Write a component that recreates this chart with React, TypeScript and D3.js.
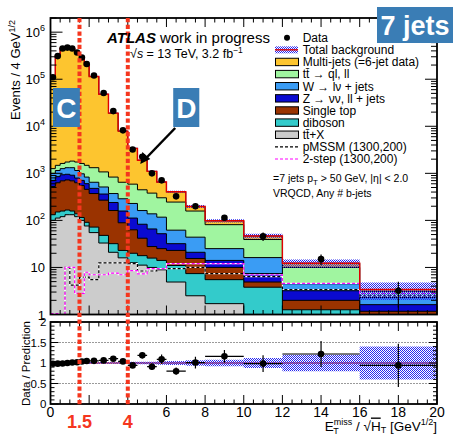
import React from "react";
import * as d3 from "d3";

// bin edges in ETmiss/sqrt(HT) [GeV^1/2]
const binEdges = [0, 0.25, 0.5, 0.75, 1, 1.25, 1.5, 1.75, 2, 2.5, 3, 3.5, 4, 4.5, 5, 5.5, 6, 7, 8, 10, 12, 16, 20];

// events / 4 GeV^1/2
const dataEvents = [110000, 310000, 450000, 470000, 450000, 370000, 290000, 210000, 120000, 51000, 21000, 8200, 3200, 2250, 1000, 710, 324, 200, 114, 46, 15, 3.2];

// backgrounds, stacked bottom -> top
const ttX = [100, 112, 120, 132, 132, 120, 100, 76, 55, 33, 21, 16, 12.6, 11.2, 10, 8.9, 4.9, 2.5, 1.7, 0.5, 0.3, 0.1];
const diboson = [32, 39, 38, 34, 26, 18, 15, 15, 17, 15, 11, 7, 7.4, 6.6, 5.8, 5.2, 6.1, 4.9, 3.8, 3.3, 0.96, 0.4];
const singleTop = [393, 480, 534, 558, 534, 493, 435, 366, 300, 221, 130, 66, 43, 24, 12, 11, 12, 8.1, 4.5, 1.1, 0.74, 0.67];
const zJets = [183, 220, 241, 231, 220, 163, 158, 146, 107, 94, 78, 69, 49, 41, 38, 27, 9, 5.5, 4.1, 2.5, 1.2, 0.45];
const wJets = [292, 297, 326, 363, 406, 354, 269, 229, 167, 150, 132, 130, 117, 79, 72, 65, 30, 23, 11, 8.8, 1.3, 0.68];
const ttbar = [259, 331, 363, 420, 502, 590, 645, 647, 672, 559, 460, 358, 360, 285, 242, 185, 183, 114, 56, 23, 5.5, 0.8];
const multijet = [110700, 313500, 453400, 468300, 443200, 361300, 278400, 198500, 112700, 46900, 18170, 7250, 2810, 1450, 720, 350, 160, 40, 17, 7.5, 2.3, 0.3];

// relative uncertainty on total background
const bkgUnc = [0.015, 0.015, 0.015, 0.015, 0.015, 0.015, 0.015, 0.015, 0.02, 0.02, 0.02, 0.02, 0.03, 0.03, 0.03, 0.04, 0.05, 0.07, 0.08, 0.12, 0.2, 0.4];

// signals
const pmssm = [0.5, 0.5, 0.5, 10, 4.2, 4.2, 6.2, 6.2, 5.5, 12.5, 12.5, 12.5, 12, 8.4, 8.4, 9.5, 9.4, 10, 7.4, 6.4, 3.4, 2.5];
const twoStep = [1.05, 1.05, 0.9, 10, 10, 2.8, 2.8, 7.9, 7, 7, 7.6, 7, 8.6, 7.3, 9.4, 9.4, 12, 12, 12, 7, 4.6, 2.8];

const xTickLabels = [0, 6, 8, 10, 12, 14, 16, 18, 20];
const regionCuts = [1.5, 4];
const regionLabels = ["1.5", "4"];
const yDecades = [0, 1, 2, 3, 4, 5, 6];
const ratioTicks = [0, 0.5, 1, 1.5, 2];
const ratioLabels = ["0", "0.5", "1", "1.5", "2"];

const legendLabels = [
  "Data",
  "Total background",
  "Multi-jets (=6-jet data)",
  "tt\u0304 \u2192 ql, ll",
  "W \u2192 l\u03bd + jets",
  "Z \u2192 \u03bd\u03bd, ll + jets",
  "Single top",
  "diboson",
  "tt\u0304+X",
  "pMSSM (1300,200)",
  "2-step (1300,200)",
];

const FONT = "'Liberation Sans', Arial, Helvetica, sans-serif";
const BOXBLUE = "#3a7db5";
const RED = "#f5361e";

const layers = [
  { key: "ttX", vals: ttX, color: "#cccccc" },
  { key: "diboson", vals: diboson, color: "#33cbcb" },
  { key: "singleTop", vals: singleTop, color: "#9a3300" },
  { key: "zJets", vals: zJets, color: "#0a0ad0" },
  { key: "wJets", vals: wJets, color: "#3a9cf4" },
  { key: "ttbar", vals: ttbar, color: "#a0f5a0" },
  { key: "multijet", vals: multijet, color: "#fdc52f" },
];

export default function App() {
  const L = 50.5, R = 437;
  const mTop = 18, mBot = 314.5;
  const rTop = 322, rBot = 404;

  const x = d3.scaleLinear().domain([0, 20]).range([L, R]);
  const y = d3.scaleLog().domain([1, 2e6]).range([mBot, mTop]).clamp(true);
  const yr = d3.scaleLinear().domain([0, 2]).range([rBot, rTop]);

  const rows = dataEvents.map((_, i) => {
    const o: Record<string, number> = {};
    layers.forEach((l) => (o[l.key] = l.vals[i]));
    return o;
  });
  const stacked = d3.stack<Record<string, number>>().keys(layers.map((l) => l.key))(rows);
  const total = rows.map((_, i) => stacked[stacked.length - 1][i][1]);

  const steps = (vals: number[]) => {
    const pts: [number, number][] = vals.map((v, i) => [binEdges[i], v]);
    pts.push([binEdges[binEdges.length - 1], vals[vals.length - 1]]);
    return pts;
  };
  const lineStep = d3
    .line<[number, number]>()
    .x((d) => x(d[0]))
    .y((d) => y(Math.max(d[1], 0.3)))
    .curve(d3.curveStepAfter);
  const areaStep = d3
    .area<[number, number]>()
    .x((d) => x(d[0]))
    .y0(mBot)
    .y1((d) => y(Math.max(d[1], 0.3)))
    .curve(d3.curveStepAfter);

  type B = [number, number, number];
  const bandPts = (lo: number[], hi: number[]) => {
    const pts: B[] = lo.map((v, i) => [binEdges[i], v, hi[i]]);
    pts.push([binEdges[binEdges.length - 1], lo[lo.length - 1], hi[hi.length - 1]]);
    return pts;
  };
  const bandMain = d3
    .area<B>()
    .x((d) => x(d[0]))
    .y0((d) => y(Math.max(d[1], 0.3)))
    .y1((d) => y(d[2]))
    .curve(d3.curveStepAfter);
  const bandRatio = d3
    .area<B>()
    .x((d) => x(d[0]))
    .y0((d) => yr(d[1]))
    .y1((d) => yr(d[2]))
    .curve(d3.curveStepAfter);

  const centers = dataEvents.map((_, i) => (binEdges[i] + binEdges[i + 1]) / 2);
  const widths = dataEvents.map((_, i) => binEdges[i + 1] - binEdges[i]);
  const errs = dataEvents.map((v, i) => (Math.sqrt((v * widths[i]) / 4) * 4) / widths[i]);
  const ratio = dataEvents.map((v, i) => v / total[i]);
  const ratioErr = errs.map((e, i) => e / total[i]);

  // ticks
  const xMajor = d3.range(0, 20.001, 2);
  const xMinor = d3.range(0, 20.001, 0.5).filter((v) => Math.abs(v % 2) > 1e-6);
  const yMinor: number[] = [];
  yDecades.forEach((d) => {
    for (let k = 2; k <= 9; k++) {
      const v = k * Math.pow(10, d);
      if (v <= 2e6) yMinor.push(v);
    }
  });
  const rMinor = d3.range(0, 2.001, 0.1).filter((v) => Math.abs((v * 2) % 1) > 1e-6 && Math.abs((v * 2) % 1) < 0.999);

  let tickPath = "";
  xMajor.forEach((v) => {
    const px = x(v);
    tickPath += `M${px},${mBot}V${mBot - 9}M${px},${mTop}V${mTop + 9}`;
    tickPath += `M${px},${rBot}V${rBot - 9}M${px},${rTop}V${rTop + 9}`;
  });
  xMinor.forEach((v) => {
    const px = x(v);
    tickPath += `M${px},${mBot}V${mBot - 4.5}M${px},${mTop}V${mTop + 4.5}`;
    tickPath += `M${px},${rBot}V${rBot - 4.5}M${px},${rTop}V${rTop + 4.5}`;
  });
  yDecades.forEach((d) => {
    const py = y(Math.pow(10, d));
    tickPath += `M${L},${py}H${L + 12}M${R},${py}H${R - 12}`;
  });
  yMinor.forEach((v) => {
    const py = y(v);
    tickPath += `M${L},${py}H${L + 6}M${R},${py}H${R - 6}`;
  });
  ratioTicks.forEach((v) => {
    const py = yr(v);
    tickPath += `M${L},${py}H${L + 8}M${R},${py}H${R - 8}`;
  });
  rMinor.forEach((v) => {
    const py = yr(v);
    tickPath += `M${L},${py}H${L + 4}M${R},${py}H${R - 4}`;
  });

  const rowY = (i: number) => 37.7 + i * 12.13;
  const legendColors = [null, null, "#fdc52f", "#a0f5a0", "#3a9cf4", "#0a0ad0", "#9a3300", "#33cbcb", "#cccccc"];

  const cBox = { x0: x(0.13), x1: x(1.52), y0: 88, y1: 127 };
  const dBox = { x0: x(6.35), x1: x(7.7), y0: 88, y1: 127 };

  return (
    <svg width={453} height={437} style={{ position: "absolute", left: 0, top: 0 }} fontFamily={FONT}>
      <defs>
        <pattern id="hatch" width="2" height="2" patternUnits="userSpaceOnUse">
          <rect x="0" y="0" width="1" height="1" fill="#2626f0" />
          <rect x="1" y="1" width="1" height="1" fill="#2626f0" />
        </pattern>
        <clipPath id="clipMain">
          <rect x={L} y={mTop} width={R - L} height={mBot - mTop} />
        </clipPath>
        <clipPath id="clipRatio">
          <rect x={L} y={rTop} width={R - L} height={rBot - rTop} />
        </clipPath>
      </defs>
      <rect width={453} height={437} fill="#fff" />

      {/* main panel */}
      <g clipPath="url(#clipMain)">
        {[...stacked].reverse().map((s, k) => {
          const layer = layers[layers.length - 1 - k];
          const vals = s.map((d) => d[1]);
          return (
            <g key={layer.key}>
              <path d={areaStep(steps(vals)) || ""} fill={layer.color} />
              <path d={lineStep(steps(vals)) || ""} fill="none" stroke="#000" strokeWidth={1} />
            </g>
          );
        })}
        {[
          { vals: pmssm, color: "#000" },
          { vals: twoStep, color: "#ff00ff" },
        ].map((s, k) => (
          <g key={k}>
            <path d={lineStep(steps(s.vals)) || ""} fill="none" stroke="#fff" strokeWidth={1.2} />
            <path d={lineStep(steps(s.vals)) || ""} fill="none" stroke={s.color} strokeWidth={1.2} strokeDasharray="3,2" />
          </g>
        ))}
        <path
          d={bandMain(bandPts(total.map((t, i) => t * (1 - bkgUnc[i])), total.map((t, i) => t * (1 + bkgUnc[i])))) || ""}
          fill="url(#hatch)"
        />
        <path d={lineStep(steps(total)) || ""} fill="none" stroke="#e00000" strokeWidth={1.4} />
        {dataEvents.map((v, i) => (
          <g key={i}>
            <line x1={x(centers[i])} x2={x(centers[i])} y1={y(v + errs[i])} y2={y(Math.max(v - errs[i], 0.5))} stroke="#000" strokeWidth={1.2} />
            <circle cx={x(centers[i])} cy={y(v)} r={3.3} fill="#000" />
          </g>
        ))}
      </g>

      {/* ratio panel */}
      <g clipPath="url(#clipRatio)">
        {[0.5, 1, 1.5].map((v) => (
          <line key={v} x1={L} x2={R} y1={yr(v)} y2={yr(v)} stroke="#000" strokeWidth={0.8} strokeDasharray="1,2" />
        ))}
        <line x1={L} x2={R} y1={yr(1)} y2={yr(1)} stroke="#e00000" strokeWidth={1} />
        <path d={bandRatio(bandPts(bkgUnc.map((u) => 1 - u), bkgUnc.map((u) => 1 + u))) || ""} fill="url(#hatch)" />
        {ratio.map((r, i) => (
          <g key={i}>
            <line x1={x(binEdges[i])} x2={x(binEdges[i + 1])} y1={yr(r)} y2={yr(r)} stroke="#000" strokeWidth={1.2} />
            <line x1={x(centers[i])} x2={x(centers[i])} y1={yr(r + ratioErr[i])} y2={yr(r - ratioErr[i])} stroke="#000" strokeWidth={1.2} />
            <circle cx={x(centers[i])} cy={yr(r)} r={3.3} fill="#000" />
          </g>
        ))}
      </g>

      {/* frames and ticks */}
      <rect x={L} y={mTop} width={R - L} height={mBot - mTop} fill="none" stroke="#000" strokeWidth={1.8} />
      <rect x={L} y={rTop} width={R - L} height={rBot - rTop} fill="none" stroke="#000" strokeWidth={1.8} />
      <path d={tickPath} stroke="#000" strokeWidth={1} fill="none" />

      {/* main y labels */}
      {yDecades.map((d) => (
        <text key={d} x={45} y={y(Math.pow(10, d)) + 5} fontSize={13} textAnchor="end">
          {d === 0 ? "1" : "10"}
          {d > 1 && (
            <tspan fontSize={9} dy={-6}>
              {d}
            </tspan>
          )}
        </text>
      ))}
      {/* ratio y labels */}
      {ratioTicks.map((v, i) => (
        <text key={v} x={46.5} y={yr(v) + 4} fontSize={11.5} textAnchor="end">
          {ratioLabels[i]}
        </text>
      ))}
      {/* x labels */}
      {xTickLabels.map((v) => (
        <text key={v} x={x(v)} y={416.5} fontSize={14} textAnchor="middle">
          {v}
        </text>
      ))}
      {regionCuts.map((v, i) => (
        <text key={v} x={x(v)} y={428} fontSize={18} fontWeight="bold" fill={RED} textAnchor="middle">
          {regionLabels[i]}
        </text>
      ))}

      {/* axis titles */}
      <text transform="translate(19.5,20) rotate(-90)" fontSize={13} textAnchor="end">
        Events / 4 GeV
        <tspan fontSize={9} dy={-5}>
          1/2
        </tspan>
      </text>
      <text transform="translate(29.5,321) rotate(-90)" fontSize={11.5} textAnchor="end">
        Data / Prediction
      </text>
      <text x={437} y={430.5} fontSize={13.5} textAnchor="end">
        E
        <tspan fontSize={9} dy={-6}>
          miss
        </tspan>
        <tspan fontSize={9} dx={-19} dy={9.5}>
          T
        </tspan>
        <tspan dx={13.5} dy={-3.5}>
          {" / \u221a"}
        </tspan>
        <tspan textDecoration="overline">H</tspan>
        <tspan fontSize={9} dy={2.5}>
          T
        </tspan>
        <tspan dy={-2.5}>{" [GeV"}</tspan>
        <tspan fontSize={9} dy={-6}>
          1/2
        </tspan>
        <tspan dy={6}>]</tspan>
      </text>

      {/* region lines */}
      {regionCuts.map((v) => (
        <line key={v} x1={x(v)} x2={x(v)} y1={mTop} y2={rBot + 1} stroke={RED} strokeWidth={4} strokeDasharray="4.3,2.4" />
      ))}

      {/* ATLAS label */}
      <text x={107} y={43} fontSize={15}>
        <tspan fontWeight="bold" fontStyle="italic">
          ATLAS
        </tspan>
        <tspan dx={4}>work in progress</tspan>
      </text>
      <text x={130} y={57.5} fontSize={12.5}>
        {"\u221a"}
        <tspan fontStyle="italic">s</tspan>
        {" = 13 TeV, 3.2 fb"}
        <tspan fontSize={8.5} dy={-5}>
          {"\u22121"}
        </tspan>
      </text>

      {/* legend */}
      {legendLabels.map((lab, i) => {
        const cy = rowY(i);
        return (
          <g key={lab}>
            {i === 0 && <circle cx={287} cy={cy} r={3} fill="#000" />}
            {i === 1 && (
              <g>
                <rect x={275} y={cy - 3.5} width={23} height={7} fill="url(#hatch)" />
                <line x1={275} x2={298} y1={cy} y2={cy} stroke="#e00000" strokeWidth={1.4} />
              </g>
            )}
            {i >= 2 && i <= 8 && (
              <rect x={275.5} y={cy - 3.7} width={23} height={7.4} fill={legendColors[i] as string} stroke="#000" strokeWidth={1} />
            )}
            {i === 9 && <line x1={275} x2={298} y1={cy} y2={cy} stroke="#000" strokeWidth={1.2} strokeDasharray="3,2" />}
            {i === 10 && <line x1={275} x2={298} y1={cy} y2={cy} stroke="#ff00ff" strokeWidth={1.2} strokeDasharray="3,2" />}
            <text x={302.7} y={cy + 4.3} fontSize={12}>
              {lab}
            </text>
          </g>
        );
      })}

      <text x={273} y={181.7} fontSize={10.5}>
        =7 jets p
        <tspan fontSize={8} dy={3}>
          T
        </tspan>
        <tspan dy={-3}>{" > 50 GeV, |\u03b7| < 2.0"}</tspan>
      </text>
      <text x={273} y={196.7} fontSize={10.5}>
        VRQCD, Any # b-jets
      </text>

      {/* annotation boxes */}
      <rect x={cBox.x0} y={cBox.y0} width={cBox.x1 - cBox.x0} height={cBox.y1 - cBox.y0} fill={BOXBLUE} />
      <text x={(cBox.x0 + cBox.x1) / 2} y={117.5} fontSize={28} fontWeight="bold" fill="#fff" textAnchor="middle">
        C
      </text>
      <rect x={dBox.x0} y={dBox.y0} width={dBox.x1 - dBox.x0} height={dBox.y1 - dBox.y0} fill={BOXBLUE} />
      <text x={(dBox.x0 + dBox.x1) / 2} y={117.5} fontSize={28} fontWeight="bold" fill="#fff" textAnchor="middle">
        D
      </text>
      <line x1={dBox.x0 + 2} y1={dBox.y1 + 1} x2={x(4.75) + 2} y2={160} stroke="#000" strokeWidth={2.5} />
      <path d={`M${x(4.75) - 2},${164} L${x(4.75)},${152} L${x(4.75) + 8},${159} Z`} fill="#000" />
      <rect x={377} y={7} width={76} height={36} fill={BOXBLUE} />
      <text x={415} y={35} fontSize={27} fontWeight="bold" fill="#fff" textAnchor="middle">
        7 jets
      </text>
    </svg>
  );
}
